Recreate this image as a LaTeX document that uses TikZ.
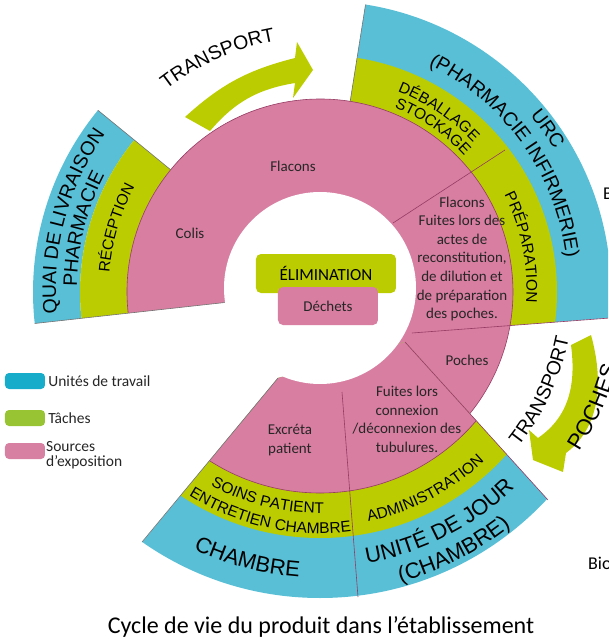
\documentclass[tikz,border=0pt]{standalone}
\usepackage{fontspec}
\setmainfont{Carlito}
\newfontfamily\arialfont{Liberation Sans}
\usepackage{tikz}
\usetikzlibrary{decorations.text, positioning}
\usepackage{xcolor}
\definecolor{unitblue}{RGB}{88,191,214}
\definecolor{taskgreen}{RGB}{187,204,0}
\definecolor{srcpink}{RGB}{216,126,161}
\definecolor{pinkline}{RGB}{150,60,100}
\definecolor{legblue}{RGB}{22,172,202}
\definecolor{leggreen}{RGB}{152,196,52}
\definecolor{legpink}{RGB}{216,128,162}
\newcommand\capbig{\arialfont\fontsize{22}{25}\selectfont}
\newcommand\capmid{\arialfont\fontsize{19.5}{23}\selectfont}
\newcommand\capsmall{\arialfont\fontsize{15.5}{18}\selectfont}
\newcommand\txtsmall{\fontsize{15}{18.6}\selectfont}

\begin{document}
\begin{tikzpicture}[x=1pt, y=1pt,
      divider/.style={pinkline, line width=0.6pt},
      edge/.style={black!55, line width=0.6pt},
      arctext/.style={decorate, decoration={text along path, text align=center, text={#1}}},
      srctext/.style={text=black!85, align=center, font=\txtsmall},
      legbox/.style={rounded corners=4pt, minimum width=40pt, minimum height=16pt, inner sep=0pt},
      legtext/.style={text=black!85, align=left, inner sep=2pt, font=\fontsize{15.5}{15}\selectfont}]
      \useasboundingbox (-320,-352) rectangle (288,288);
      \clip (-320,-352) rectangle (288,288);

      \begin{scope}[yshift=-4]
        \fill[unitblue] (140.7:240) arc[start angle=140.7, end angle=186.3, radius=240] -- (186.3:287) arc[start angle=186.3, end angle=140.7, radius=287] -- cycle;
        \fill[taskgreen] (140.7:193) arc[start angle=140.7, end angle=186.3, radius=193] -- (186.3:240) arc[start angle=186.3, end angle=140.7, radius=240] -- cycle;
        \begin{scope}
          \clip (81:90) -- (81:340) -- (340,340) -- (340,-22) -- (92,-41) -- cycle;
          \fill[unitblue] (0,0) circle (291);
          \fill[taskgreen] (0,0) circle (237);
        \end{scope}
        \fill[srcpink] (186.3:193) arc[start angle=186.3, end angle=-50, radius=193] -- (-50:88) arc[start angle=-50, end angle=186.3, radius=88] -- cycle;
        \draw[divider] (186.3:193) arc[start angle=186.3, end angle=-50, radius=193];
        \draw[edge] (186.3:96) -- (186.3:287);
        \draw[edge] (140.7:193) -- (140.7:287);
        \draw[edge] (81:193) -- (81:291);
      \end{scope}

      \begin{scope}
        \clip (-42,-90) -- (-205,-287) -- (-205,-400) -- (257,-400) -- (257,-244) -- (85,-54) -- cycle;
        \fill[unitblue] (0,0) circle (310);
        \fill[taskgreen] (0,0) circle (250);
        \fill[srcpink] (0,0) circle (205);
        \draw[divider] (0,0) circle (205);
      \end{scope}

      \fill[white] (0,0) circle (96);

      \fill[taskgreen] (-135,171) to[bend left=14] (-25,230) -- (-23,246) -- (-7,218) -- (-27,190) -- (-25,205) to[bend right=20] (-110,157) -- cycle;
      \fill[taskgreen] (271,-47) .. controls (283,-90) and (282,-138) .. (246,-165) -- (243,-184) -- (213,-172) -- (209,-142) -- (218,-150) .. controls (250,-128) and (256,-95) .. (251,-57) -- cycle;

      \draw[divider] (73,65) -- (185,138);
      \draw[divider] (92,-45) -- (290,-30);
      \draw[divider] (85,-54) -- (228,-212);
      \draw[divider] (22,-104) -- (38,-309);
      \draw[edge] (-42,-90) -- (-178,-254);

      \path[arctext={|\capmid|QUAI DE LIVRAISON}] (205:264) arc[start angle=205, end angle=125, radius=264];
      \path[arctext={|\capmid|PHARMACIE}] (206:243) arc[start angle=206, end angle=126, radius=243];
      \path[arctext={|\capsmall|RÉCEPTION}] (203.6:211) arc[start angle=203.6, end angle=123.6, radius=211];
      \path[arctext={|\capmid|TRANSPORT}] (154:251) arc[start angle=154, end angle=74, radius=251];
      \path[arctext={|\capmid|URC}] (75:272) arc[start angle=75, end angle=-5, radius=272];
      \path[arctext={|\capmid|(PHARMACIE INFIRMERIE)}] (75.5:248) arc[start angle=75.5, end angle=-4.5, radius=248];
      \path[arctext={|\capsmall|DÉBALLAGE}] (96:211.5) arc[start angle=96, end angle=16, radius=211.5];
      \path[arctext={|\capsmall|STOCKAGE}] (95:195.5) arc[start angle=95, end angle=15, radius=195.5];
      \path[arctext={|\capsmall|PRÉPARATION}] (51.4:206.5) arc[start angle=51.4, end angle=-28.6, radius=206.5];
      \path[arctext={|\capsmall|SOINS PATIENT}] (216:225.5) arc[start angle=216, end angle=296, radius=225.5];
      \path[arctext={|\capsmall|ENTRETIEN CHAMBRE}] (217.5:245.5) arc[start angle=217.5, end angle=297.5, radius=245.5];
      \path[arctext={|\capsmall|ADMINISTRATION}] (257.6:238.5) arc[start angle=257.6, end angle=337.6, radius=238.5];
      \path[arctext={|\capbig|CHAMBRE}] (215:290) arc[start angle=215, end angle=295, radius=290];
      \path[arctext={|\capbig|UNITÉ DE JOUR}] (257:279) arc[start angle=257, end angle=337, radius=279];
      \path[arctext={|\capbig|(CHAMBRE)}] (257:305) arc[start angle=257, end angle=337, radius=305];
      \path[arctext={|\capmid|TRANSPORT}] (295:254) arc[start angle=295, end angle=375, radius=254];
      \path[arctext={|\capbig|POCHES}] (296.5:307) arc[start angle=296.5, end angle=376.5, radius=307];

      \node[srctext] (colis) at (-130,55) {Colis};
      \node[srctext] (flacons) at (-27,122) {Flacons};
      \node[srctext] (prep) at (142,29) {Flacons\\Fuites lors des\\actes de\\reconstitution,\\de dilution et\\de préparation\\des poches.};
      \node[srctext] (poches) at (147,-72) {Poches};
      \node[srctext] (fuites) at (87,-131.5) {Fuites lors\\connexion\\/déconnexion des\\tubulures.};
      \node[srctext] (excreta) at (-30,-152) {Excréta\\patient};

      \node[fill=taskgreen, rounded corners=5pt, minimum width=140pt, minimum height=39pt, font=\fontsize{17}{20}\selectfont] (elim) at (6,14.5) {ÉLIMINATION};
      \node[srctext, fill=srcpink, rounded corners=5pt, minimum width=100pt, minimum height=38pt] (dechets) at (8,-18) {Déchets};

      \node[legbox, fill=legblue] (kblue) at (-295,-93) {};
      \node[legbox, fill=leggreen] (kgreen) at (-295,-130) {};
      \node[legbox, fill=legpink] (kpink) at (-295,-163) {};
      \node[legtext, right=1pt of kblue] (lblue) {Unités de travail};
      \node[legtext, right=1pt of kgreen] (lgreen) {Tâches};
      \node[legtext, anchor=west] (lpink) at (-276,-167.5) {Sources\\d’exposition};

      \node[anchor=base, font=\fontsize{24}{28}\selectfont] (caption) at (1,-345) {Cycle de vie du produit dans l’établissement};
      \node[anchor=base west, inner sep=0pt, font=\fontsize{18}{20}\selectfont] (bcut) at (283,88) {B};
      \node[anchor=base west, inner sep=0pt, font=\fontsize{18}{20}\selectfont] (biocut) at (268,-281) {Bio};

    \end{tikzpicture}
\end{document}
